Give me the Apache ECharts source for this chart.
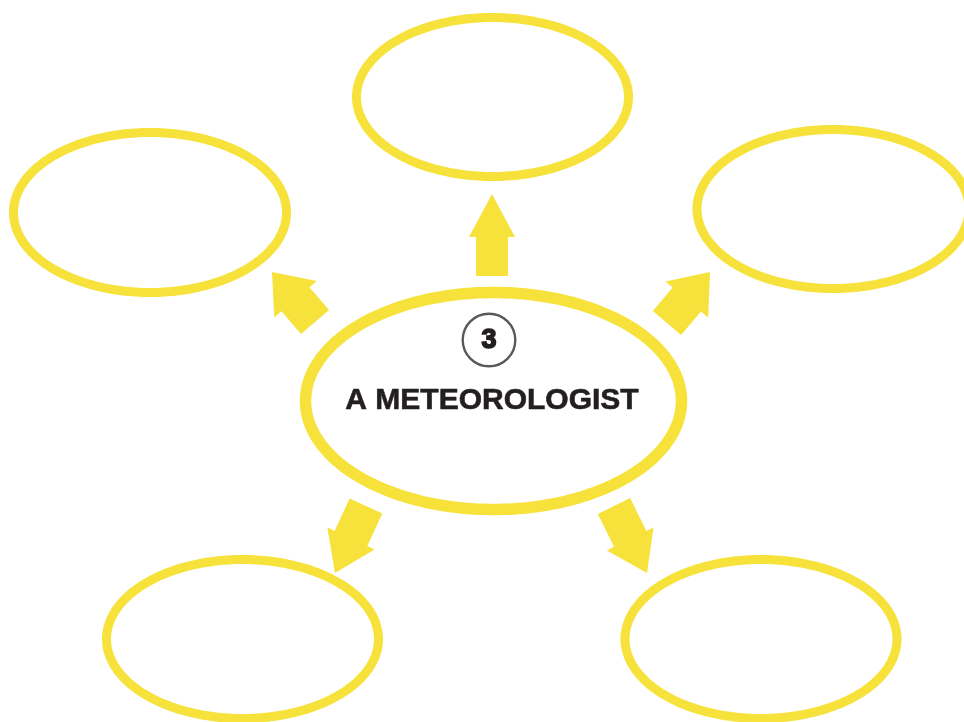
<!DOCTYPE html>
<html>
<head>
<meta charset="utf-8">
<script src="https://cdn.jsdelivr.net/npm/echarts@6/dist/echarts.min.js"></script>
<style>
  html, body { margin: 0; padding: 0; background: #ffffff; }
  #chart { width: 964px; height: 722px; }
</style>
</head>
<body>
<div id="chart"></div>
<script>
// ---------- DATA (diagram coordinates) ----------
const nodeNames = ['top', 'left', 'right', 'center', 'bottomLeft', 'bottomRight'];
const nodeCenters = [[492.5, 97], [150, 212.5], [833, 209], [493.5, 401], [242.5, 639], [761, 639]];
const nodeRadii = [[136, 79.5], [136.5, 80], [136, 79.5], [188, 108.5], [136, 79.5], [136, 79.5]];
const arrowTails = [[492, 276], [315, 322], [667, 323], [366, 506], [614, 506]];
const arrowTips = [[492, 194], [272, 272], [710, 272], [335, 573], [647, 573]];
const centerTitle = 'A METEOROLOGIST';
const badgeNumber = '3';
const badgeCenter = [489, 340];
const titleCenter = [492, 400.5];

// ---------- STYLES ----------
const YELLOW = '#f6e23b';
const TEXT_DARK = '#231f20';
const BADGE_GREY = '#58595b';
const nodeLineWidths = [9, 9, 9, 11.5, 9, 9];
const arrowSizes = [
  { shaft: 32, head: 46, headLen: 43 },
  { shaft: 37, head: 56, headLen: 36 },
  { shaft: 37, head: 56, headLen: 36 },
  { shaft: 36, head: 52, headLen: 38 },
  { shaft: 36, head: 52, headLen: 38 }
];
const BADGE_RADIUS = 26.3;

const nodeData = nodeNames.map((n, i) => ({
  name: n,
  value: [nodeCenters[i][0], nodeCenters[i][1], nodeRadii[i][0], nodeRadii[i][1], i]
}));
const arrowData = arrowTails.map((t, i) => [t[0], t[1], arrowTips[i][0], arrowTips[i][1], i]);

const chart = echarts.init(document.getElementById('chart'), null, { renderer: 'canvas' });

const option = {
  backgroundColor: '#ffffff',
  animation: false,
  grid: { left: 0, right: 0, top: 0, bottom: 0 },
  xAxis: { type: 'value', min: 0, max: 964, show: false },
  yAxis: { type: 'value', min: 0, max: 722, inverse: true, show: false },
  series: [
    {
      type: 'custom',
      name: 'nodes',
      coordinateSystem: 'cartesian2d',
      clip: false,
      data: nodeData,
      renderItem: function (params, api) {
        const cx = api.value(0), cy = api.value(1), rx = api.value(2), ry = api.value(3);
        const idx = api.value(4);
        const pts = [];
        const N = 240;
        for (let k = 0; k < N; k++) {
          const a = (k / N) * Math.PI * 2;
          pts.push(api.coord([cx + rx * Math.cos(a), cy + ry * Math.sin(a)]));
        }
        return {
          type: 'polygon',
          shape: { points: pts },
          style: { fill: 'none', stroke: YELLOW, lineWidth: nodeLineWidths[idx] }
        };
      }
    },
    {
      type: 'custom',
      name: 'arrows',
      coordinateSystem: 'cartesian2d',
      clip: false,
      data: arrowData,
      renderItem: function (params, api) {
        const T = api.coord([api.value(0), api.value(1)]);
        const P = api.coord([api.value(2), api.value(3)]);
        const sz = arrowSizes[api.value(4)];
        const dx = P[0] - T[0], dy = P[1] - T[1];
        const L = Math.sqrt(dx * dx + dy * dy);
        const ux = dx / L, uy = dy / L;
        const nx = -uy, ny = ux;
        const B = [P[0] - ux * sz.headLen, P[1] - uy * sz.headLen];
        const s = sz.shaft / 2, h = sz.head / 2;
        const pts = [
          [T[0] + nx * s, T[1] + ny * s],
          [B[0] + nx * s, B[1] + ny * s],
          [B[0] + nx * h, B[1] + ny * h],
          [P[0], P[1]],
          [B[0] - nx * h, B[1] - ny * h],
          [B[0] - nx * s, B[1] - ny * s],
          [T[0] - nx * s, T[1] - ny * s]
        ];
        return {
          type: 'polygon',
          shape: { points: pts },
          style: { fill: YELLOW, stroke: null }
        };
      }
    },
    {
      type: 'custom',
      name: 'labels',
      coordinateSystem: 'cartesian2d',
      clip: false,
      data: [[titleCenter[0], titleCenter[1], badgeCenter[0], badgeCenter[1]]],
      renderItem: function (params, api) {
        const tc = api.coord([api.value(0), api.value(1)]);
        const bc = api.coord([api.value(2), api.value(3)]);
        return {
          type: 'group',
          children: [
            {
              type: 'circle',
              shape: { cx: bc[0], cy: bc[1], r: BADGE_RADIUS },
              style: { fill: '#ffffff', stroke: BADGE_GREY, lineWidth: 2.4 }
            },
            {
              type: 'text',
              x: bc[0], y: bc[1] + 1,
              style: {
                text: badgeNumber,
                fill: TEXT_DARK,
                stroke: TEXT_DARK,
                lineWidth: 1.6,
                font: 'bold 27px "Liberation Sans", Arial, sans-serif',
                align: 'center',
                verticalAlign: 'middle'
              }
            },
            {
              type: 'text',
              x: tc[0], y: tc[1],
              style: {
                text: centerTitle,
                fill: TEXT_DARK,
                stroke: TEXT_DARK,
                lineWidth: 0.6,
                font: 'bold 30px "Liberation Sans", Arial, sans-serif',
                align: 'center',
                verticalAlign: 'middle'
              }
            }
          ]
        };
      }
    }
  ]
};

chart.setOption(option);
</script>
</body>
</html>
